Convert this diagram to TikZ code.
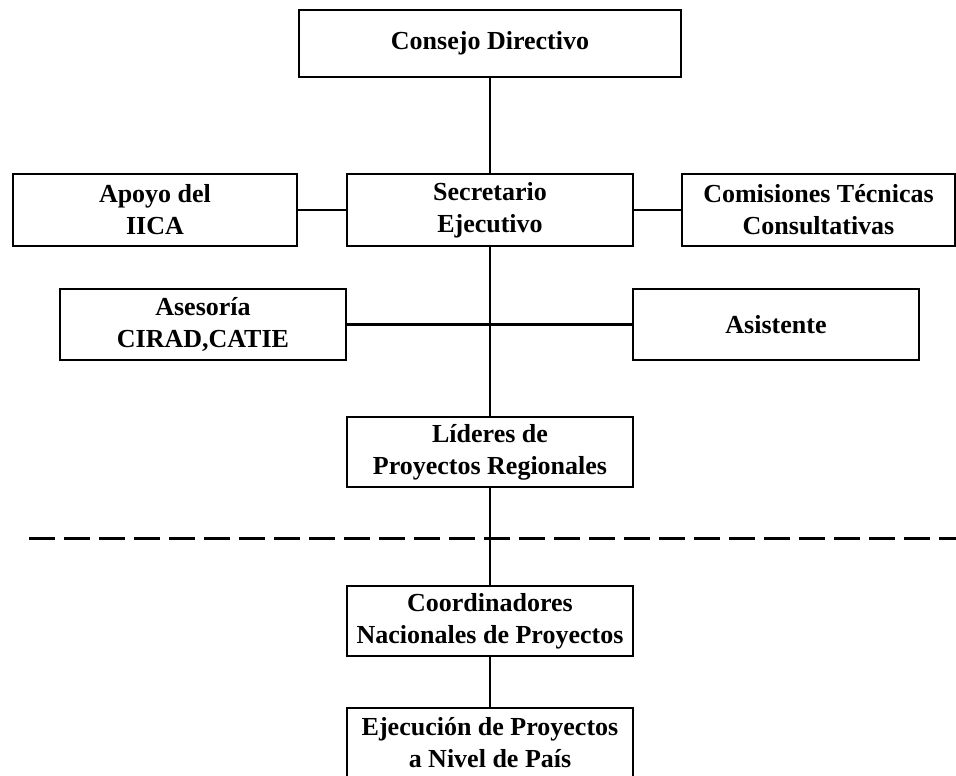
\documentclass[tikz,border=0pt]{standalone}
\usepackage{fontspec}
\setmainfont{Liberation Serif}
\begin{document}
\begin{tikzpicture}[x=1pt,y=-1pt,
  box/.style={draw, line width=2.8pt, align=center, inner sep=0pt,
    font=\bfseries\fontsize{26}{32}\selectfont},
  link/.style={line width=2.8pt},
  sepline/.style={line width=3pt, dash pattern=on 26pt off 9pt}]
\clip (0,0) rectangle (956,776);
\fill[white] (0,0) rectangle (956,776);
\node[box, minimum width=382pt, minimum height=67pt] (consejo) at (490,43.5) {Consejo Directivo};
\node[box, minimum width=284pt, minimum height=72pt] (apoyo) at (155,210) {Apoyo del\\IICA};
\node[box, minimum width=286pt, minimum height=72pt] (secretario) at (490,210) {Secretario\\Ejecutivo};
\node[box, minimum width=273pt, minimum height=72pt] (comisiones) at (818.5,210) {Comisiones Técnicas\\Consultativas};
\node[box, minimum width=286pt, minimum height=71pt] (asesoria) at (203,324.5) {Asesoría\\CIRAD,CATIE};
\node[box, minimum width=286pt, minimum height=71pt] (asistente) at (776,324.5) {Asistente};
\node[box, minimum width=286pt, minimum height=70pt] (lideres) at (490,452) {Líderes de\\Proyectos Regionales};
\node[box, minimum width=286pt, minimum height=70pt] (coord) at (490,621) {Coordinadores\\Nacionales de Proyectos};
\node[box, minimum width=286pt, minimum height=70pt] (ejec) at (490,743) {Ejecución de Proyectos\\a Nivel de País};
\draw[link] (consejo) -- (secretario);
\draw[link] (apoyo) -- (secretario);
\draw[link] (secretario) -- (comisiones);
\draw[link] (secretario) -- (lideres);
\draw[link] (asesoria) -- (asistente);
\draw[link] (lideres) -- (coord);
\draw[link] (coord) -- (ejec);
\coordinate (dl) at (29,538);
\coordinate (dr) at (956,538);
\draw[sepline] (dl) -- (dr);
\end{tikzpicture}
\end{document}
